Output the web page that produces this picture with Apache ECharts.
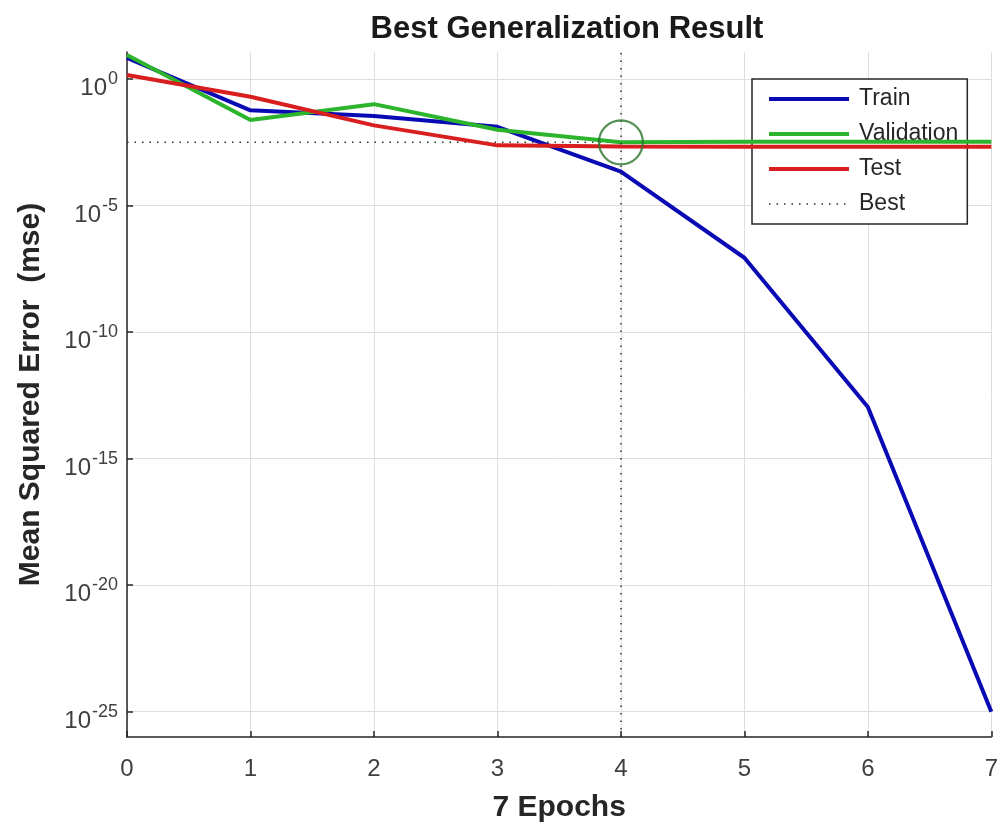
<!DOCTYPE html>
<html>
<head>
<meta charset="utf-8">
<title>Best Generalization Result</title>
<script src="https://cdn.jsdelivr.net/npm/echarts@6/dist/echarts.min.js"></script>
<style>
  html, body { margin: 0; padding: 0; background: #ffffff; }
  #chart { width: 1001px; height: 832px; }
</style>
</head>
<body>
<div id="chart"></div>
<script>
// Training performance per epoch (mean squared error)
const epochs = [0, 1, 2, 3, 4, 5, 6, 7];
const trainMse = [6.8, 5.8e-2, 3.5e-2, 1.3e-2, 2.2e-4, 8.7e-8, 1.1e-13, 1.0e-25];
const validationMse = [8.9, 2.4e-2, 1.02e-1, 1.0e-2, 3.16e-3, 3.3e-3, 3.3e-3, 3.3e-3];
const testMse = [1.45, 2.0e-1, 1.48e-2, 2.4e-3, 2.19e-3, 2.14e-3, 2.14e-3, 2.14e-3];

// Axis extents and tick labels
const yMin = 1e-26;
const yMax = 11.75;
const yTickValues = [1e-25, 1e-20, 1e-15, 1e-10, 1e-5, 1];
const xTickLabels = ['0', '1', '2', '3', '4', '5', '6', '7'];

// Best epoch = lowest validation error
const bestEpoch = validationMse.indexOf(Math.min.apply(null, validationMse));
const bestValue = validationMse[bestEpoch];
const firstEpoch = epochs[0];
const lastEpoch = epochs[epochs.length - 1];

const pairs = (ys) => epochs.map((e, i) => [e, ys[i]]);

const FONT = '"Liberation Sans", Arial, Helvetica, sans-serif';
const DOTS = [1.5, 6];
const chart = echarts.init(document.getElementById('chart'), null, { renderer: 'canvas' });

const option = {
  animation: false,
  backgroundColor: '#ffffff',
  textStyle: { fontFamily: FONT },
  title: {
    text: 'Best Generalization Result',
    left: 562,
    textAlign: 'center',
    top: 9,
    textStyle: { fontFamily: FONT, fontSize: 31, fontWeight: 'bold', color: '#1a1a1a' }
  },
  grid: { left: 127, right: 5, top: 52, bottom: 95, containLabel: false },
  legend: {
    left: 752,
    top: 79,
    orient: 'vertical',
    backgroundColor: '#ffffff',
    borderColor: '#262626',
    borderWidth: 1.5,
    borderRadius: 0,
    padding: [8, 9, 8, 15],
    itemGap: 11,
    itemWidth: 80,
    itemHeight: 14,
    itemStyle: { opacity: 0 },
    textStyle: { fontFamily: FONT, fontSize: 23, color: '#262626', lineHeight: 24, padding: [0, 0, 0, 5] },
    data: [
      { name: 'Train', lineStyle: { width: 4 } },
      { name: 'Validation', lineStyle: { width: 4 } },
      { name: 'Test', lineStyle: { width: 4 } },
      { name: 'Best', lineStyle: { width: 1.5 } }
    ]
  },
  xAxis: {
    type: 'value',
    min: 0,
    max: 7,
    interval: 1,
    name: '7 Epochs',
    nameLocation: 'middle',
    nameGap: 56,
    nameTextStyle: { fontFamily: FONT, fontSize: 30, fontWeight: 'bold', color: '#262626' },
    axisLine: { show: true, onZero: false, lineStyle: { color: '#262626', width: 1.5 } },
    axisTick: { show: true, inside: true, length: 6, lineStyle: { color: '#262626', width: 1.5 } },
    axisLabel: {
      margin: 20,
      fontFamily: FONT,
      fontSize: 24,
      color: '#404040',
      formatter: (v) => xTickLabels[Math.round(v)]
    },
    splitLine: { show: true, lineStyle: { color: '#dedede', width: 1 } }
  },
  yAxis: {
    type: 'log',
    logBase: 10,
    min: yMin,
    max: yMax,
    name: 'Mean Squared Error  (mse)',
    nameLocation: 'middle',
    nameGap: 81,
    nameTextStyle: { fontFamily: FONT, fontSize: 30, fontWeight: 'bold', color: '#262626' },
    axisLine: { show: true, lineStyle: { color: '#262626', width: 1.5 } },
    axisTick: { show: true, inside: true, length: 6, customValues: yTickValues, lineStyle: { color: '#262626', width: 1.5 } },
    minorTick: { show: false },
    axisLabel: {
      customValues: yTickValues,
      margin: 9,
      fontFamily: FONT,
      color: '#404040',
      formatter: (v) => '{b|10}{s|' + Math.round(Math.log10(v)) + '}',
      rich: {
        b: { fontFamily: FONT, fontSize: 24, lineHeight: 24, verticalAlign: 'bottom', color: '#404040' },
        s: { fontFamily: FONT, fontSize: 18, lineHeight: 43, verticalAlign: 'middle', padding: [0, 0, 0, 1], color: '#404040' }
      }
    },
    splitLine: { show: true, lineStyle: { color: '#dedede', width: 1 } }
  },
  series: [
    {
      name: 'Train', type: 'line', data: pairs(trainMse),
      symbol: 'none', color: '#0a0ab4',
      lineStyle: { width: 4, color: '#0a0ab4' }, z: 3
    },
    {
      name: 'Validation', type: 'line', data: pairs(validationMse),
      symbol: 'none', color: '#2cb52c',
      lineStyle: { width: 4, color: '#2cb52c' }, z: 4
    },
    {
      name: 'Test', type: 'line', data: pairs(testMse),
      symbol: 'none', color: '#d81e1e',
      lineStyle: { width: 4, color: '#d81e1e' }, z: 5
    },
    {
      // horizontal best-value line plus the vertical best-epoch line
      name: 'Best', type: 'line',
      data: [[firstEpoch, bestValue], [lastEpoch, bestValue]],
      symbol: 'none', color: '#2a352a',
      lineStyle: { width: 1.5, color: '#2a352a', type: DOTS },
      z: 2,
      markLine: {
        silent: true,
        symbol: 'none',
        label: { show: false },
        lineStyle: { width: 1.5, color: '#2a352a', type: DOTS },
        data: [{ xAxis: bestEpoch }]
      }
    },
    {
      name: 'Best point', type: 'scatter', data: [[bestEpoch, bestValue]],
      symbol: 'circle', symbolSize: 44, silent: true,
      itemStyle: { color: 'rgba(0,0,0,0)', borderColor: '#2a742a', borderWidth: 2.2 },
      z: 6
    }
  ]
};

chart.setOption(option);
</script>
</body>
</html>
